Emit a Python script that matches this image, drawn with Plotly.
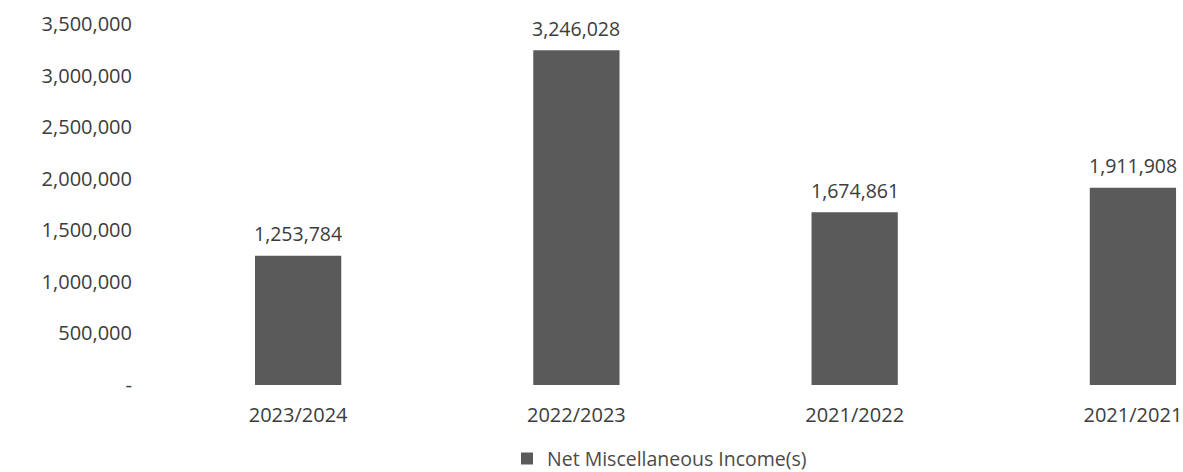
import plotly.graph_objects as go

# Net miscellaneous income by financial year
years = ["2023/2024", "2022/2023", "2021/2022", "2021/2021"]
income = [1253784, 3246028, 1674861, 1911908]

tick_vals = [0, 500000, 1000000, 1500000, 2000000, 2500000, 3000000, 3500000]
tick_text = ["-", "500,000", "1,000,000", "1,500,000", "2,000,000",
             "2,500,000", "3,000,000", "3,500,000"]

font_family = "Open Sans, DejaVu Sans, sans-serif"
text_color = "#3c3c3c"
bar_color = "#5a5a5a"

fig = go.Figure(
    go.Bar(
        x=years,
        y=income,
        name="Net Miscellaneous Income(s)",
        marker=dict(color=bar_color, line=dict(width=0)),
        width=0.31,
    )
)

# value labels above each bar
for yr, val in zip(years, income):
    fig.add_annotation(
        x=yr,
        y=val,
        text=f"{val:,}",
        showarrow=False,
        yanchor="middle",
        yshift=22,
        font=dict(family=font_family, size=19.5, color=text_color),
    )

fig.update_layout(
    width=1183,
    height=472,
    margin=dict(l=159, r=0, t=24, b=87),
    paper_bgcolor="white",
    plot_bgcolor="white",
    font=dict(family=font_family, size=20, color=text_color),
    showlegend=True,
    legend=dict(
        orientation="h",
        xref="container",
        yref="container",
        x=507 / 1183,
        y=0.028,
        xanchor="left",
        yanchor="middle",
        font=dict(family=font_family, size=19.5, color="#4a4a4a"),
        itemwidth=30,
    ),
)

fig.update_xaxes(
    range=[-0.5, 3.18],
    showgrid=False,
    showline=False,
    zeroline=False,
    ticks="outside",
    ticklen=12,
    tickcolor="rgba(0,0,0,0)",
    tickfont=dict(family=font_family, size=20, color=text_color),
)

fig.update_yaxes(
    range=[0, 3500000],
    tickvals=tick_vals,
    ticktext=tick_text,
    showgrid=False,
    showline=False,
    zeroline=False,
    ticks="outside",
    ticklen=22,
    tickcolor="rgba(0,0,0,0)",
    tickfont=dict(family=font_family, size=20, color=text_color),
)

fig.write_html("out.html")
